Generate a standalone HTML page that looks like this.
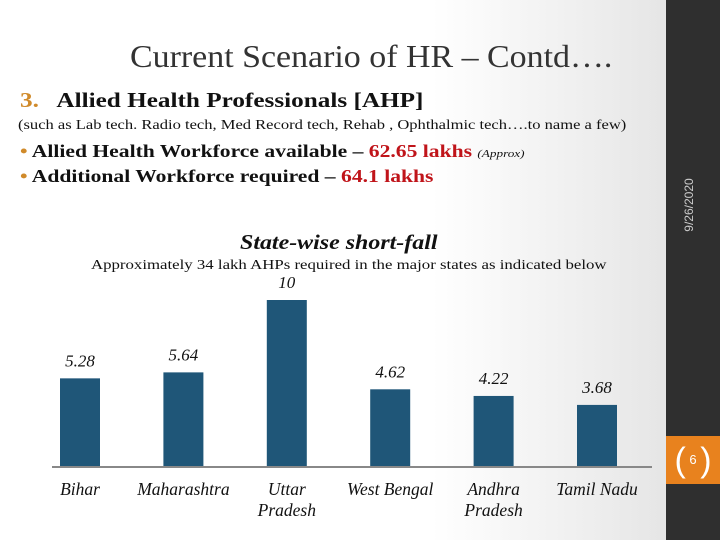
<!DOCTYPE html>
<html><head><meta charset="utf-8"><style>
body{margin:0;width:720px;height:540px;overflow:hidden;position:relative;font-family:"Liberation Serif",serif;background:linear-gradient(90deg,#fff 0%,#fff 60%,#e6e6e6 92%);}
.a{position:absolute;white-space:nowrap}
.s{transform-origin:left top;transform:scaleX(1.2)}
</style></head><body>
<div class="a" style="left:666px;top:0;width:54px;height:540px;background:#2f2f2f"></div>
<div class="a" style="left:644px;top:198px;transform:rotate(-90deg);color:#ccc;font-family:'Liberation Sans',sans-serif;font-size:12px;width:90px;text-align:center">9/26/2020</div>
<div class="a" style="left:666px;top:436px;width:54px;height:48px;background:#e8821e;color:#fff;font-family:'Liberation Sans',sans-serif;font-size:13px;text-align:center;line-height:48px"><span style="font-size:34px;font-weight:100;vertical-align:middle">(</span> 6 <span style="font-size:34px;vertical-align:middle">)</span></div>
<div class="a" style="left:130px;top:38px;font-size:32px;color:#333;transform-origin:left top;transform:scaleX(1.06)">Current Scenario of HR – Contd….</div>
<div class="a s" style="left:20px;top:88px;font-size:21px;font-weight:bold;color:#111"><span style="color:#d08a2a">3.</span>&nbsp;&nbsp; Allied Health Professionals [AHP]</div>
<div class="a s" style="left:18px;top:118px;font-size:14px;color:#111;transform:scaleX(1.18)">(such as Lab tech. Radio tech, Med Record tech, Rehab , Ophthalmic tech….to name a few)</div>
<div class="a s" style="left:20px;top:141px;font-size:18px;font-weight:bold;color:#111"><span style="color:#d08a2a">•</span> Allied Health Workforce available –  <span style="color:#c0141a">62.65 lakhs</span> <i style="font-weight:normal;font-size:11px">(Approx)</i></div>
<div class="a s" style="left:20px;top:166px;font-size:18px;font-weight:bold;color:#111"><span style="color:#d08a2a">•</span> Additional Workforce required – <span style="color:#c0141a">64.1 lakhs</span></div>
<div class="a" style="left:240px;top:230px;font-size:21px;font-weight:bold;font-style:italic;color:#111;transform-origin:left top;transform:scaleX(1.14)">State-wise short-fall</div>
<div class="a s" style="left:91px;top:258px;font-size:14px;color:#111">Approximately 34 lakh AHPs required in the major states as indicated below</div>
<svg class="a" style="left:0;top:0" width="720" height="540" id="chart"></svg>
<script>
const categories=["Bihar","Maharashtra","Uttar Pradesh","West Bengal","Andhra Pradesh","Tamil Nadu"];
const values=[5.28,5.64,10,4.62,4.22,3.68];
const valueLabels=["5.28","5.64","10","4.62","4.22","3.68"];
const svg=document.getElementById('chart');const NS='http://www.w3.org/2000/svg';
const base=466,scale=16.6;
function x(i){return 80+i*103.4;}function y(v){return base-v*scale;}
function mk(t,a){const e=document.createElementNS(NS,t);for(const k in a)e.setAttribute(k,a[k]);svg.appendChild(e);return e;}
const ax=mk('line',{x1:52,x2:652,y1:base+1,y2:base+1,stroke:'#888','stroke-width':2});


categories.forEach((c,i)=>{
 const b=mk('rect',{x:x(i)-20,y:y(values[i]),width:40,height:base-y(values[i]),fill:'#1f5678'});
 
 
 const t=mk('text',{x:x(i),y:y(values[i])-12,'text-anchor':'middle','font-size':17,'font-style':'italic','font-family':'Liberation Serif, serif',fill:'#111'});
 t.textContent=valueLabels[i];
 
 
 const words=c.split(' ');const lines=(c==='West Bengal'||c==='Tamil Nadu')?[c]:words;
 lines.forEach((w,j)=>{const l=mk('text',{x:x(i),y:495+j*21,'text-anchor':'middle','font-size':17.5,'font-style':'italic','font-family':'Liberation Serif, serif',fill:'#111'});l.textContent=w;
 
 });
});
</script>
</body></html>
